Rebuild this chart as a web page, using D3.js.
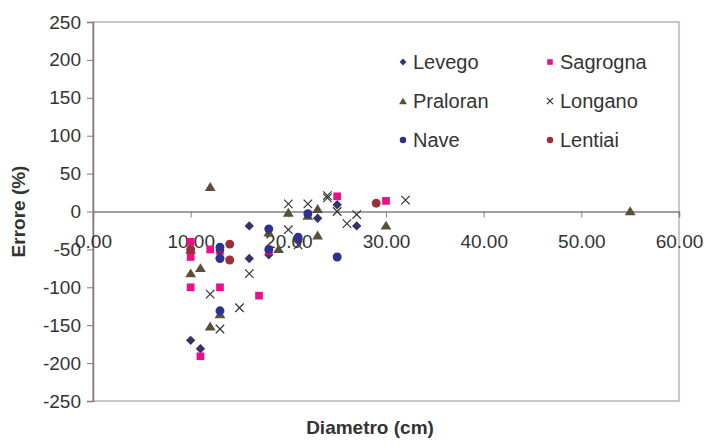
<!DOCTYPE html>
<html><head><meta charset="utf-8">
<script src="https://cdn.jsdelivr.net/npm/d3@7"></script>
<style>body{margin:0;background:#fff}svg{display:block;font-family:"Liberation Sans",Arial,sans-serif}</style>
</head><body>
<svg id="c" width="706" height="446"></svg>
<script>
const xTicks = [0,10,20,30,40,50,60];
const yTicks = [250,200,150,100,50,0,-50,-100,-150,-200,-250];
const seriesNames = ["Levego","Sagrogna","Praloran","Longano","Nave","Lentiai"];
const levego = [[10,-170],[11,-181],[16,-19],[16,-62],[18,-57],[21,-37],[23,-9],[25,9],[27,-19]];
const sagrogna = [[10,-40],[10,-60],[10,-100],[11,-191],[12,-50],[13,-52],[13,-100],[17,-111],[18,-52],[25,20],[30,14]];
const praloran = [[10,-50],[10,-81],[11,-74],[12,33],[12,-151],[13,-135],[18,-27],[19,-49],[20,-1],[22,-5],[23,4],[23,-31],[30,-18],[55,1]];
const longano = [[12,-109],[13,-56],[13,-155],[15,-127],[16,-82],[20,10],[20,-24],[21,-44],[22,10],[24,21],[24,18],[25,0],[26,-16],[27,-4],[32,15]];
const nave = [[13,-47],[13,-62],[13,-131],[18,-23],[18,-50],[21,-34],[22,-3],[25,-60]];
const lentiai = [[10,-50],[14,-43],[14,-64],[29,11]];

const data = [levego,sagrogna,praloran,longano,nave,lentiai];
const colors = ["#333366","#ee0e8a","#5a5035","#333333","#2e3192","#9b2f35"];
const shapes = ["diamond","square","triangle","cross","circle","circle"];

const svg = d3.select("#c");
const L=93, R=679, T=22, B=401;
const x = d3.scaleLinear().domain([0,60]).range([L,R]);
const y = d3.scaleLinear().domain([-250,250]).range([B,T]);

svg.append("rect").attr("x",L).attr("y",T).attr("width",R-L).attr("height",B-T)
  .attr("fill","none").attr("stroke","#9c8e8e").attr("stroke-width",1);

const ya = svg.append("g").attr("transform",`translate(${L},0)`)
  .call(d3.axisLeft(y).tickValues(yTicks).tickSize(6).tickPadding(6).tickFormat(d=>String(d)));
ya.select(".domain").attr("stroke","#7f7777").attr("stroke-width",1.5);
ya.selectAll(".tick line").attr("stroke","#7f7777");
ya.selectAll("text").attr("fill","#333").style("font-size","19px").style("font-family","Liberation Sans, Arial, sans-serif");

const xa = svg.append("g").attr("transform",`translate(0,${y(0)})`)
  .call(d3.axisBottom(x).tickValues(xTicks).tickSize(6).tickPadding(17).tickFormat(d3.format(".2f")));
xa.select(".domain").attr("stroke","#808080").attr("stroke-width",1.5);
xa.selectAll(".tick line").attr("stroke","#808080");
xa.selectAll("text").attr("fill","#333").style("font-size","19px").style("font-family","Liberation Sans, Arial, sans-serif");

function marker(g, shape, color, s){
  if(shape==="diamond"){
    g.append("path").attr("d",`M0,${-s}L${s},0L0,${s}L${-s},0Z`).attr("fill",color);
  } else if(shape==="square"){
    const h=s*0.82;
    g.append("rect").attr("x",-h).attr("y",-h).attr("width",2*h).attr("height",2*h).attr("fill",color);
  } else if(shape==="triangle"){
    const w=s*1.15, h=s*0.95;
    g.append("path").attr("d",`M0,${-h}L${w},${h}L${-w},${h}Z`).attr("fill",color);
  } else if(shape==="circle"){
    g.append("circle").attr("r",s*0.95).attr("fill",color);
  } else if(shape==="cross"){
    const c=s*0.9;
    g.append("path").attr("d",`M${-c},${-c}L${c},${c}M${-c},${c}L${c},${-c}`)
      .attr("stroke",color).attr("stroke-width",1.2).attr("fill","none");
  }
}

data.forEach((arr,i)=>{
  const g = svg.append("g");
  g.selectAll("g").data(arr).join("g")
    .attr("transform",d=>`translate(${x(d[0])},${y(d[1])})`)
    .each(function(){ marker(d3.select(this), shapes[i], colors[i], 4.7); });
});

const legX=[403,550], legY=[62,101,140];
seriesNames.forEach((n,i)=>{
  const cx=legX[i%2], cy=legY[Math.floor(i/2)];
  const g=svg.append("g").attr("transform",`translate(${cx},${cy})`);
  marker(g, shapes[i], colors[i], 3.4);
  svg.append("text").attr("x",cx+10).attr("y",cy).attr("dy","0.36em")
    .attr("fill","#333").style("font-size","20px").text(n);
});

svg.append("text").attr("x",370).attr("y",434).attr("text-anchor","middle")
  .attr("fill","#333").style("font-size","19px").style("font-weight","bold").text("Diametro (cm)");
svg.append("text").attr("transform",`translate(25,${(T+B)/2}) rotate(-90)`).attr("text-anchor","middle")
  .attr("fill","#333").style("font-size","19px").style("font-weight","bold").text("Errore (%)");
</script>
</body></html>
